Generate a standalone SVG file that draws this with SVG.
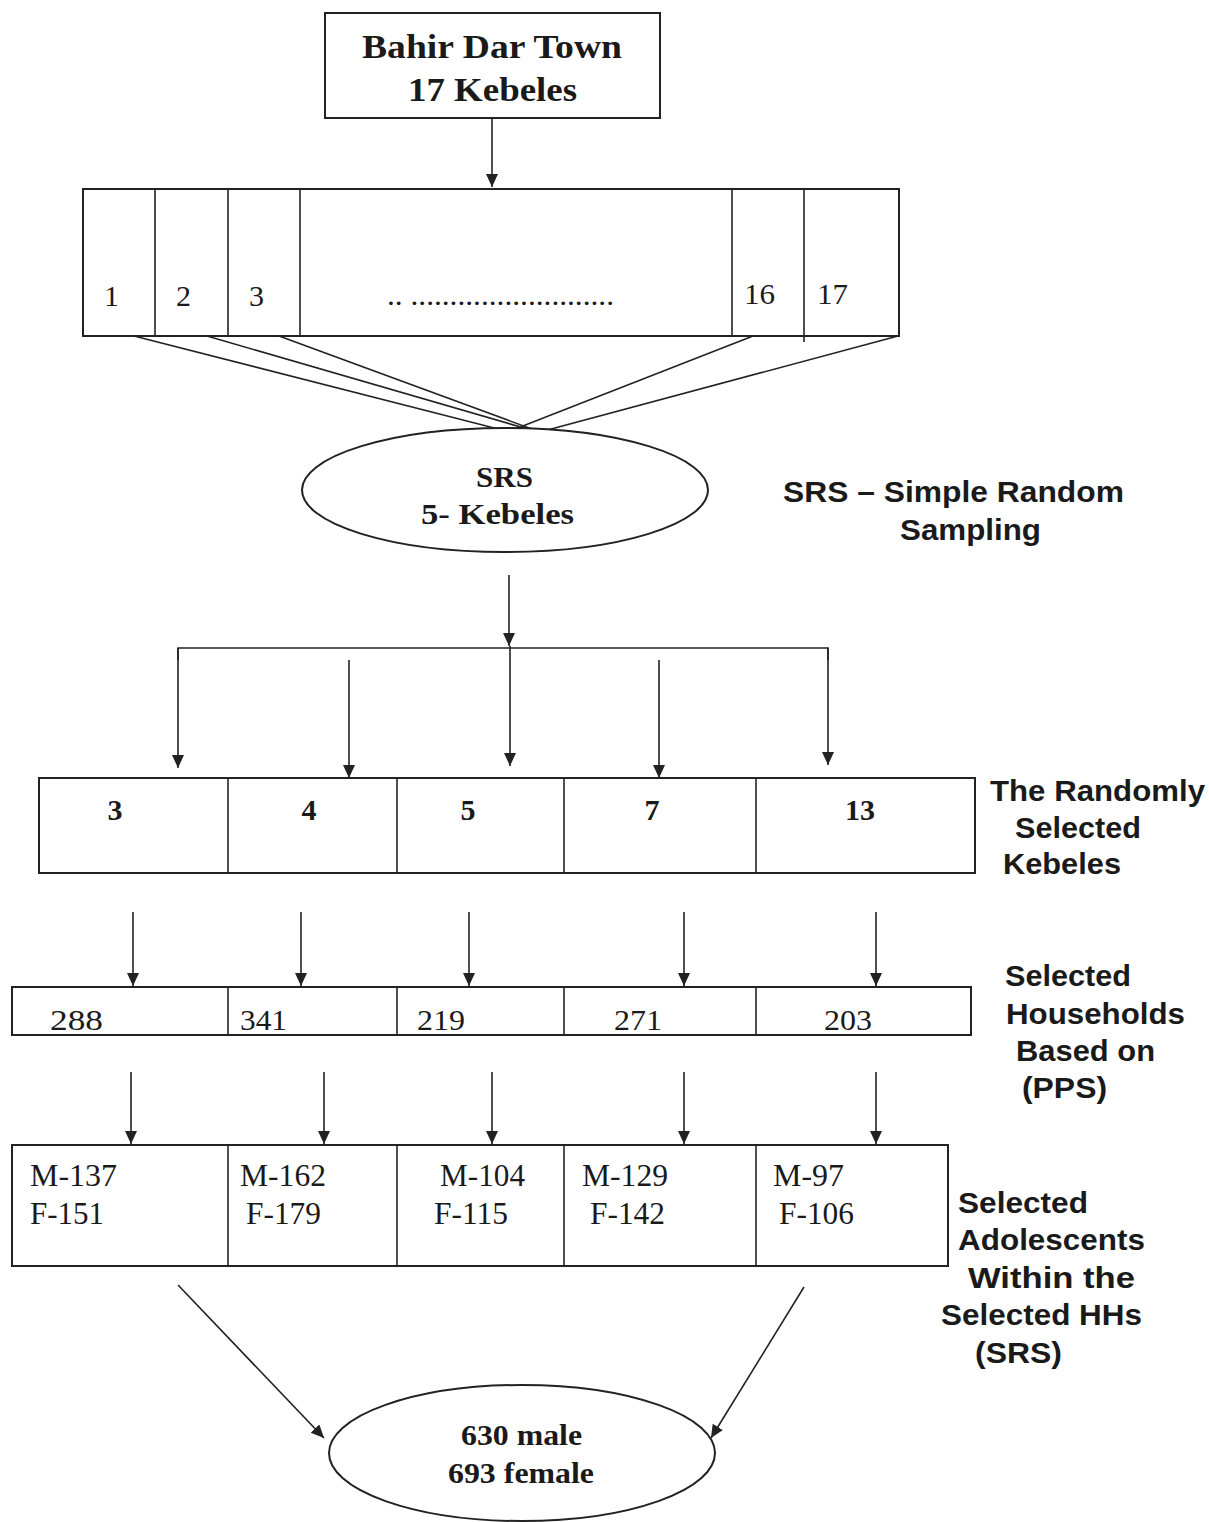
<svg xmlns="http://www.w3.org/2000/svg" width="1209" height="1522" viewBox="0 0 1209 1522">
<style>
.box{fill:#fff;stroke:#222;stroke-width:2}
.ln{fill:none;stroke:#222;stroke-width:1.6}
.arr{fill:none;stroke:#222;stroke-width:1.6;marker-end:url(#ah)}
.sb{font-family:"Liberation Serif",serif;font-weight:bold;fill:#1a1a1a}
.sr{font-family:"Liberation Serif",serif;fill:#1a1a1a}
.ss{font-family:"Liberation Sans",Arial,sans-serif;font-weight:bold;font-size:30px;fill:#1a1a1a}
text{white-space:pre}
</style>
<defs>
<marker id="ah" markerWidth="14" markerHeight="16" refX="13" refY="6" orient="auto" markerUnits="userSpaceOnUse">
<path d="M0,0 L13,6 L0,12 Z" fill="#222"/>
</marker>
</defs>
<rect width="1209" height="1522" fill="#fff"/>
<g id="connectors">
<line class="arr" x1="492" y1="118" x2="492" y2="187"/>
<line class="ln" x1="134" y1="336" x2="510" y2="432"/>
<line class="ln" x1="207" y1="336" x2="538" y2="432"/>
<line class="ln" x1="279" y1="336" x2="540" y2="432"/>
<line class="ln" x1="753" y1="336" x2="510" y2="431"/>
<line class="ln" x1="898" y1="336" x2="540" y2="432"/>
<line class="arr" x1="509" y1="575" x2="509" y2="646"/>
<polyline class="ln" points="178,660 178,648 828,648 828,660"/>
<line class="arr" x1="178" y1="648" x2="178" y2="768"/>
<line class="arr" x1="349" y1="660" x2="349" y2="778"/>
<line class="arr" x1="510" y1="646" x2="510" y2="766"/>
<line class="arr" x1="659" y1="660" x2="659" y2="778"/>
<line class="arr" x1="828" y1="648" x2="828" y2="765"/>
<line class="arr" x1="133" y1="912" x2="133" y2="986"/>
<line class="arr" x1="301" y1="912" x2="301" y2="986"/>
<line class="arr" x1="469" y1="912" x2="469" y2="986"/>
<line class="arr" x1="684" y1="912" x2="684" y2="986"/>
<line class="arr" x1="876" y1="912" x2="876" y2="986"/>
<line class="arr" x1="131" y1="1072" x2="131" y2="1144"/>
<line class="arr" x1="324" y1="1072" x2="324" y2="1144"/>
<line class="arr" x1="492" y1="1072" x2="492" y2="1144"/>
<line class="arr" x1="684" y1="1072" x2="684" y2="1144"/>
<line class="arr" x1="876" y1="1072" x2="876" y2="1144"/>
<line class="arr" x1="178" y1="1285" x2="324" y2="1438"/>
<line class="arr" x1="804" y1="1287" x2="711" y2="1438"/>
</g>
<g id="town">
<rect class="box" x="325" y="13" width="335" height="105"/>
<text class="sb" font-size="33" x="362" y="58" textLength="260" lengthAdjust="spacingAndGlyphs">Bahir Dar Town</text>
<text class="sb" font-size="33" x="408" y="101" textLength="169" lengthAdjust="spacingAndGlyphs">17 Kebeles</text>
</g>
<g id="kebele-strip">
<rect class="box" x="83" y="189" width="816" height="147"/>
<line class="ln" x1="155" y1="189" x2="155" y2="336"/>
<line class="ln" x1="228" y1="189" x2="228" y2="336"/>
<line class="ln" x1="300" y1="189" x2="300" y2="336"/>
<line class="ln" x1="732" y1="189" x2="732" y2="336"/>
<line class="ln" x1="804" y1="189" x2="804" y2="342"/>
<text class="sr" font-size="30" x="104" y="306">1</text>
<text class="sr" font-size="30" x="176" y="306">2</text>
<text class="sr" font-size="30" x="249" y="306">3</text>
<text class="sr" font-size="30" x="387" y="305" textLength="227" lengthAdjust="spacingAndGlyphs">.. ..........................</text>
<text class="sr" font-size="30" x="744" y="304" textLength="31" lengthAdjust="spacingAndGlyphs">16</text>
<text class="sr" font-size="30" x="817" y="304" textLength="31" lengthAdjust="spacingAndGlyphs">17</text>
</g>
<g id="srs">
<ellipse class="box" cx="505" cy="490" rx="203" ry="62"/>
<text class="sb" font-size="30" x="476" y="487" textLength="57" lengthAdjust="spacingAndGlyphs">SRS</text>
<text class="sb" font-size="30" x="421" y="524" textLength="153" lengthAdjust="spacingAndGlyphs">5- Kebeles</text>
</g>
<g id="srs-legend">
<text class="ss" x="783" y="502" textLength="341" lengthAdjust="spacingAndGlyphs">SRS – Simple Random</text>
<text class="ss" x="900" y="540" textLength="141" lengthAdjust="spacingAndGlyphs">Sampling</text>
</g>
<g id="selected-kebeles">
<rect class="box" x="39" y="778" width="936" height="95"/>
<line class="ln" x1="228" y1="778" x2="228" y2="873"/>
<line class="ln" x1="397" y1="778" x2="397" y2="873"/>
<line class="ln" x1="564" y1="778" x2="564" y2="873"/>
<line class="ln" x1="756" y1="778" x2="756" y2="873"/>
<text class="sb" font-size="30" x="115" y="820" text-anchor="middle">3</text>
<text class="sb" font-size="30" x="309" y="820" text-anchor="middle">4</text>
<text class="sb" font-size="30" x="468" y="820" text-anchor="middle">5</text>
<text class="sb" font-size="30" x="652" y="820" text-anchor="middle">7</text>
<text class="sb" font-size="30" x="860" y="820" text-anchor="middle">13</text>
</g>
<g id="kebeles-label">
<text class="ss" x="990" y="801" textLength="215" lengthAdjust="spacingAndGlyphs">The Randomly</text>
<text class="ss" x="1015" y="838" textLength="126" lengthAdjust="spacingAndGlyphs">Selected</text>
<text class="ss" x="1003" y="874" textLength="118" lengthAdjust="spacingAndGlyphs">Kebeles</text>
</g>
<g id="households">
<rect class="box" x="12" y="987" width="959" height="48"/>
<line class="ln" x1="228" y1="987" x2="228" y2="1035"/>
<line class="ln" x1="397" y1="987" x2="397" y2="1035"/>
<line class="ln" x1="564" y1="987" x2="564" y2="1035"/>
<line class="ln" x1="756" y1="987" x2="756" y2="1035"/>
<text class="sr" font-size="30" x="50" y="1030" textLength="53" lengthAdjust="spacingAndGlyphs">288</text>
<text class="sr" font-size="30" x="240" y="1030" textLength="47" lengthAdjust="spacingAndGlyphs">341</text>
<text class="sr" font-size="30" x="417" y="1030" textLength="48" lengthAdjust="spacingAndGlyphs">219</text>
<text class="sr" font-size="30" x="614" y="1030" textLength="48" lengthAdjust="spacingAndGlyphs">271</text>
<text class="sr" font-size="30" x="824" y="1030" textLength="48" lengthAdjust="spacingAndGlyphs">203</text>
</g>
<g id="households-label">
<text class="ss" x="1005" y="986" textLength="126" lengthAdjust="spacingAndGlyphs">Selected</text>
<text class="ss" x="1006" y="1024" textLength="179" lengthAdjust="spacingAndGlyphs">Households</text>
<text class="ss" x="1016" y="1061" textLength="139" lengthAdjust="spacingAndGlyphs">Based on</text>
<text class="ss" x="1022" y="1098" textLength="85" lengthAdjust="spacingAndGlyphs">(PPS)</text>
</g>
<g id="adolescents">
<rect class="box" x="12" y="1145" width="936" height="121"/>
<line class="ln" x1="228" y1="1145" x2="228" y2="1266"/>
<line class="ln" x1="397" y1="1145" x2="397" y2="1266"/>
<line class="ln" x1="564" y1="1145" x2="564" y2="1266"/>
<line class="ln" x1="756" y1="1145" x2="756" y2="1266"/>
<text class="sr" font-size="31" x="30" y="1186" textLength="87" lengthAdjust="spacingAndGlyphs">M-137</text>
<text class="sr" font-size="31" x="30" y="1224" textLength="74" lengthAdjust="spacingAndGlyphs">F-151</text>
<text class="sr" font-size="31" x="240" y="1186" textLength="86" lengthAdjust="spacingAndGlyphs">M-162</text>
<text class="sr" font-size="31" x="246" y="1224" textLength="75" lengthAdjust="spacingAndGlyphs">F-179</text>
<text class="sr" font-size="31" x="440" y="1186" textLength="85" lengthAdjust="spacingAndGlyphs">M-104</text>
<text class="sr" font-size="31" x="434" y="1224" textLength="74" lengthAdjust="spacingAndGlyphs">F-115</text>
<text class="sr" font-size="31" x="582" y="1186" textLength="86" lengthAdjust="spacingAndGlyphs">M-129</text>
<text class="sr" font-size="31" x="590" y="1224" textLength="75" lengthAdjust="spacingAndGlyphs">F-142</text>
<text class="sr" font-size="31" x="773" y="1186" textLength="71" lengthAdjust="spacingAndGlyphs">M-97</text>
<text class="sr" font-size="31" x="779" y="1224" textLength="75" lengthAdjust="spacingAndGlyphs">F-106</text>
</g>
<g id="adolescents-label">
<text class="ss" x="958" y="1213" textLength="130" lengthAdjust="spacingAndGlyphs">Selected</text>
<text class="ss" x="958" y="1250" textLength="187" lengthAdjust="spacingAndGlyphs">Adolescents</text>
<text class="ss" x="968" y="1288" textLength="167" lengthAdjust="spacingAndGlyphs">Within the</text>
<text class="ss" x="941" y="1325" textLength="201" lengthAdjust="spacingAndGlyphs">Selected HHs</text>
<text class="ss" x="975" y="1363" textLength="87" lengthAdjust="spacingAndGlyphs">(SRS)</text>
</g>
<g id="total">
<ellipse class="box" cx="522" cy="1453" rx="193" ry="68"/>
<text class="sb" font-size="30" x="461" y="1445" textLength="121" lengthAdjust="spacingAndGlyphs">630 male</text>
<text class="sb" font-size="30" x="448" y="1483" textLength="146" lengthAdjust="spacingAndGlyphs">693 female</text>
</g>
</svg>
